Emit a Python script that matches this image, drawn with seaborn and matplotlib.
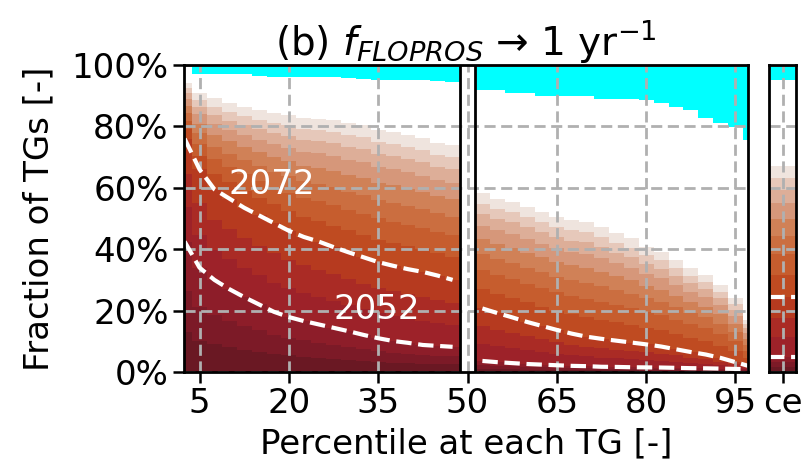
import matplotlib
matplotlib.use("Agg")
import matplotlib.pyplot as plt
import seaborn as sns
from matplotlib.ticker import FuncFormatter

sns.set_style("ticks")
plt.rcParams["font.family"] = ["DejaVu Sans"]
plt.rcParams["mathtext.fontset"] = "dejavusans"
for k in ["text.color", "axes.labelcolor", "xtick.color", "ytick.color"]:
    plt.rcParams[k] = "black"

FS = 24.5

# Percentile columns (left / right of the median)
left_pct = [2.5, 5.0, 7.5, 10.0, 12.5, 15.0, 17.5, 20.0, 22.5, 25.0,
            27.5, 30.0, 32.5, 35.0, 37.5, 40.0, 42.5, 45.0, 47.5]
right_pct = [52.5, 55.0, 57.5, 60.0, 62.5, 65.0, 67.5, 70.0, 72.5, 75.0,
             77.5, 80.0, 82.5, 85.0, 87.5, 90.0, 92.5, 95.0, 97.5]

# Cumulative fraction of TGs (%) at each band top, bottom band first
left_2052 = [42.5, 34, 30, 27, 24.4, 22, 19.6, 17.9, 16.6, 15.5, 14.4, 13.3, 12.1, 11, 10.1, 9.5, 8.8, 8.5, 8.2]
left_2072 = [76, 66, 59.5, 56.5, 53.5, 51, 48.5, 46, 44, 42.5, 40.7, 39, 37.4, 35.8, 34.6, 33.5, 32.6, 31.4, 30]
left_top = [94, 90.8, 89.1, 87.5, 86.4, 85.3, 84.3, 83.7, 82.6, 82.3, 82, 81, 80.5, 78.8, 78.3, 77.2, 76.1, 74.5, 73.9]
left_cyan = [100, 97, 97, 97, 97, 96.5, 96.2, 96.2, 96.2, 96.2, 96.2, 95.8, 95.6, 95.2, 95.1, 95.1, 95.1, 94.7, 94.6]
left_levels = [
    [13, 10.2, 9, 8.1, 7.3, 6.6, 5.9, 5.4, 5, 4.7, 4.3, 4, 3.6, 3.3, 3, 2.9, 2.6, 2.6, 2.5],
    [26.4, 21.1, 18.6, 16.7, 15.1, 13.6, 12.2, 11.1, 10.3, 9.6, 8.9, 8.2, 7.5, 6.8, 6.3, 5.9, 5.5, 5.3, 5.1],
    left_2052,
    [53.6, 44.6, 39.7, 36.7, 34, 31.6, 29.1, 27.2, 25.6, 24.4, 23.1, 21.8, 20.5, 19.2, 18.2, 17.4, 16.7, 16.1, 15.4],
    [64.6, 55.1, 49.5, 46.5, 43.6, 41.1, 38.7, 36.4, 34.7, 33.3, 31.8, 30.3, 28.8, 27.4, 26.3, 25.3, 24.5, 23.6, 22.6],
    left_2072,
    [79.1, 70.2, 64.5, 61.8, 59.1, 56.8, 54.6, 52.4, 50.6, 49.3, 47.7, 46.1, 44.7, 43.1, 42, 40.9, 40, 38.7, 37.5],
    [81.9, 74.2, 69.3, 66.7, 64.4, 62.3, 60.3, 58.4, 56.7, 55.6, 54.3, 52.9, 51.6, 50, 49, 47.9, 47, 45.6, 44.5],
    [84.5, 77.7, 73.4, 71.1, 69, 67.1, 65.3, 63.7, 62.1, 61.2, 60.1, 58.7, 57.7, 56, 55.1, 54, 53, 51.7, 50.6],
    [86.8, 80.9, 77.3, 75.1, 73.2, 71.6, 70, 68.6, 67.2, 66.4, 65.5, 64.2, 63.3, 61.6, 60.8, 59.7, 58.7, 57.3, 56.3],
    [89, 83.9, 80.8, 78.8, 77.2, 75.7, 74.3, 73.1, 71.8, 71.2, 70.4, 69.2, 68.4, 66.8, 66, 65, 63.9, 62.4, 61.6],
    [90.8, 86.3, 83.8, 81.9, 80.5, 79.1, 77.9, 76.9, 75.7, 75.1, 74.6, 73.4, 72.7, 71.1, 70.4, 69.3, 68.3, 66.7, 66],
    [92.4, 88.6, 86.4, 84.7, 83.4, 82.2, 81.1, 80.3, 79.1, 78.7, 78.3, 77.2, 76.6, 74.9, 74.4, 73.3, 72.2, 70.6, 70],
    left_top,
]

right_2052 = [3.6, 3.2, 2.9, 2.6, 2.4, 2.2, 2, 1.9, 1.7, 1.65, 1.55, 1.5, 1.45, 1.35, 1.25, 1.2, 1.1, 1, 0.9]
right_2072 = [20.7, 19.2, 17.8, 16.3, 15, 13.7, 12.5, 11.5, 10.8, 10.2, 9.6, 9, 8.3, 7.4, 6.5, 5.7, 4.6, 3.2, 1.8]
right_top = [58.2, 56.5, 55.5, 53.8, 52.2, 50.6, 49.5, 49, 47.3, 45.2, 43.5, 40.8, 39.2, 36.5, 33.8, 31.6, 28.3, 24, 16.9]
right_cyan = [91.9, 91.9, 91, 91, 90, 90, 90, 90, 89, 89, 89, 88.5, 87.5, 86.4, 85.3, 82.6, 81, 79.9, 75.6]
right_levels = [
    [1.1, 1, 0.9, 0.8, 0.7, 0.7, 0.6, 0.6, 0.5, 0.5, 0.5, 0.45, 0.45, 0.4, 0.4, 0.35, 0.3, 0.3, 0.3],
    [2.2, 2, 1.8, 1.6, 1.5, 1.4, 1.2, 1.2, 1.1, 1, 1, 0.9, 0.9, 0.85, 0.8, 0.75, 0.7, 0.6, 0.6],
    right_2052,
    [9.2, 8.5, 7.8, 7.1, 6.6, 6, 5.5, 5.1, 4.7, 4.5, 4.2, 4, 3.7, 3.4, 3, 2.7, 2.3, 1.7, 1.2],
    [14.9, 13.8, 12.7, 11.6, 10.7, 9.8, 8.9, 8.2, 7.7, 7.3, 6.9, 6.5, 6, 5.4, 4.7, 4.2, 3.4, 2.5, 1.5],
    right_2072,
    [27.1, 25.5, 24.2, 22.7, 21.3, 20, 18.8, 17.9, 17, 16.2, 15.4, 14.4, 13.6, 12.3, 11.1, 10.1, 8.6, 6.7, 4.4],
    [33.1, 31.5, 30.2, 28.7, 27.3, 25.9, 24.7, 23.9, 22.9, 21.8, 20.8, 19.5, 18.5, 17, 15.5, 14.2, 12.4, 10.1, 6.8],
    [38.3, 36.7, 35.5, 33.9, 32.5, 31, 29.9, 29.1, 28, 26.7, 25.5, 24, 22.8, 21.1, 19.3, 17.9, 15.7, 13, 8.9],
    [43.2, 41.6, 40.4, 38.8, 37.3, 35.8, 34.7, 34, 32.7, 31.2, 29.9, 28.1, 26.8, 24.9, 22.9, 21.2, 18.8, 15.7, 10.9],
    [47.7, 46.1, 45, 43.3, 41.8, 40.3, 39.1, 38.5, 37.1, 35.4, 34, 31.9, 30.5, 28.4, 26.2, 24.3, 21.7, 18.2, 12.7],
    [51.5, 49.8, 48.7, 47.1, 45.5, 43.9, 42.8, 42.3, 40.7, 38.9, 37.4, 35.1, 33.6, 31.3, 28.9, 26.9, 24, 20.3, 14.3],
    [54.8, 53.1, 52.1, 50.4, 48.9, 47.3, 46.2, 45.6, 44, 42.1, 40.4, 38, 36.4, 33.9, 31.3, 29.2, 26.2, 22.2, 15.5],
    right_top,
]

# Central estimate column
central_levels = [1.5, 3.1, 5, 11.4, 17.7, 24.3, 31.6, 38.4, 44.4, 49.9, 55, 59.3, 63.2, 67]
central_cyan = 95
central_2052 = 5
central_2072 = 24.3

band_colors = ["#6a1823", "#7c1a27", "#8d1d29", "#9d2229", "#aa2b25", "#b63a1f", "#bf4b21",
               "#c65d2e", "#cb6e40", "#d08157", "#d6977a", "#ddae98", "#e6c8ba", "#efe4de"]

y_ticks = [0, 20, 40, 60, 80, 100]
x_ticks = [5, 20, 35, 50, 65, 80, 95]

grid_kw = dict(color="#b0b0b0", linestyle=(0, (4, 2)), linewidth=2)


def draw_bands(ax, edges, levels, cyan):
    ext = lambda v: list(v) + [v[-1]]
    ax.fill_between(edges, 0, 100, step="post", color="#00ffff", lw=0, zorder=1)
    ax.fill_between(edges, 0, ext(cyan), step="post", color="white", lw=0, zorder=1)
    for lev, col in reversed(list(zip(levels, band_colors))):
        ax.fill_between(edges, 0, ext(lev), step="post", color=col, lw=0, zorder=1)


fig = plt.figure(figsize=(8.05, 4.71), dpi=100)
ax = fig.add_axes([0.2286, 0.2102, 0.7006, 0.6518])
ax_c = fig.add_axes([0.9553, 0.2102, 0.0335, 0.6518])

# Main panel
left_edges = [p - 1.25 for p in left_pct] + [left_pct[-1] + 1.25]
right_edges = [p - 1.25 for p in right_pct] + [right_pct[-1] + 1.25]
draw_bands(ax, left_edges, left_levels, left_cyan)
draw_bands(ax, right_edges, right_levels, right_cyan)
ax.axvline(left_edges[-1], color="black", lw=2, zorder=3)
ax.axvline(right_edges[0], color="black", lw=2, zorder=3)

for xs, ys in [(left_pct, left_2052), (left_pct, left_2072),
               (right_pct, right_2052), (right_pct, right_2072)]:
    sns.lineplot(x=xs, y=ys, ax=ax, color="white", lw=3, linestyle="--", zorder=4)

ax.text(17.2, 61, "2072", color="white", fontsize=FS, ha="center", va="center", zorder=5)
ax.text(34.8, 20.2, "2052", color="white", fontsize=FS, ha="center", va="center", zorder=5)

ax.set_xlim(2.4, 97.1)
ax.set_ylim(0, 100)
ax.set_xticks(x_ticks)
ax.set_yticks(y_ticks)
ax.yaxis.set_major_formatter(FuncFormatter(lambda v, _: f"{v:.0f}%"))
ax.grid(True, **grid_kw)
ax.set_axisbelow(False)
ax.tick_params(labelsize=FS, length=8, width=1.8, pad=3)
ax.set_xlabel("Percentile at each TG [-]", fontsize=FS, labelpad=5)
ax.set_ylabel("Fraction of TGs [-]", fontsize=FS, labelpad=12)
ax.set_title(r"(b) $f_{FLOPROS}$ → 1 yr$^{-1}$", fontsize=28, pad=7)

# Central column: horizontal spans between consecutive band tops
bounds = [0] + central_levels
ax_c.axhspan(central_cyan, 100, color="#00ffff", lw=0, zorder=1)
ax_c.axhspan(central_levels[-1], central_cyan, color="white", lw=0, zorder=1)
for lo, hi, col in zip(bounds[:-1], bounds[1:], band_colors):
    ax_c.axhspan(lo, hi, color=col, lw=0, zorder=1)
for v in [central_2052, central_2072]:
    sns.lineplot(x=[-0.5, 0.5], y=[v, v], ax=ax_c, color="white", lw=3, linestyle="--", zorder=4)
ax_c.set_xlim(-0.5, 0.5)
ax_c.set_ylim(0, 100)
ax_c.set_xticks([0])
ax_c.set_xticklabels(["ce"])
ax_c.set_yticks(y_ticks)
ax_c.grid(True, **grid_kw)
ax_c.set_axisbelow(False)
ax_c.tick_params(axis="x", labelsize=FS, length=8, width=1.8, pad=3)
ax_c.tick_params(axis="y", left=False, labelleft=False)

for a in (ax, ax_c):
    for s in a.spines.values():
        s.set_visible(True)
        s.set_linewidth(2)
        s.set_color("black")
        s.set_zorder(6)

fig.savefig("out.png", dpi=100)
